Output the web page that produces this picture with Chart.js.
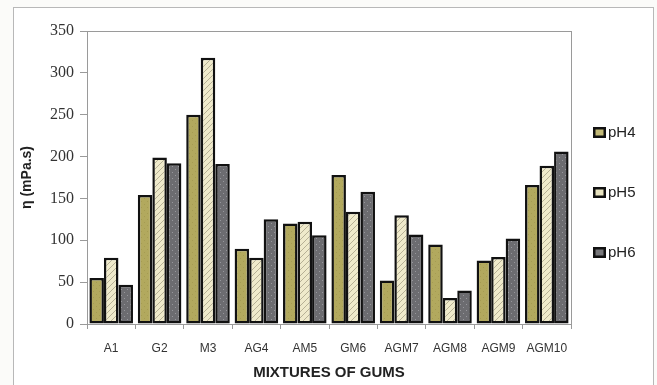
<!DOCTYPE html>
<html>
<head>
<meta charset="utf-8">
<script src="https://cdn.jsdelivr.net/npm/chart.js@4.4.1/dist/chart.umd.min.js"></script>
<style>
  html, body { margin: 0; padding: 0; background: #fbfbf9; }
  #wrap { width: 657px; height: 385px; position: relative; }
</style>
</head>
<body>
<div id="wrap"><canvas id="c" width="657" height="385"></canvas></div>
<script>
// Viscosity of gum mixtures at three pH levels
const categories = ['A1', 'G2', 'M3', 'AG4', 'AM5', 'GM6', 'AGM7', 'AGM8', 'AGM9', 'AGM10'];
const pH4 = [55, 154, 250, 90, 120, 178, 52, 95, 76, 166];
const pH5 = [79, 199, 318, 79, 122, 134, 130, 31, 80, 189];
const pH6 = [47, 192, 191, 125, 106, 158, 107, 40, 102, 206];
const seriesNames = ['pH4', 'pH5', 'pH6'];
const yTicks = [0, 50, 100, 150, 200, 250, 300, 350];

// Fill textures for the bars
function makePattern(base, draw) {
  const p = document.createElement('canvas');
  p.width = 6; p.height = 6;
  const g = p.getContext('2d');
  g.fillStyle = base;
  g.fillRect(0, 0, 6, 6);
  draw(g);
  return g.createPattern(p, 'repeat');
}
const cctx = document.getElementById('c').getContext('2d');
const fillPH4 = makePattern('#b2a95e', g => {
  g.fillStyle = 'rgba(140,130,60,0.35)';
  g.fillRect(0, 0, 1, 1); g.fillRect(3, 3, 1, 1);
});
const fillPH5 = makePattern('#efeacb', g => {
  g.strokeStyle = 'rgba(150,145,120,0.65)';
  g.lineWidth = 1;
  g.beginPath();
  g.moveTo(0, 6); g.lineTo(6, 0);
  g.moveTo(-3, 3); g.lineTo(3, -3);
  g.moveTo(3, 9); g.lineTo(9, 3);
  g.stroke();
});
const fillPH6 = makePattern('#6c6c70', g => {
  g.fillStyle = 'rgba(170,170,175,0.7)';
  g.fillRect(1, 1, 1, 1); g.fillRect(4, 4, 1, 1);
});
const fills = [fillPH4, fillPH5, fillPH6];
const swatches = ['#c2b977', '#e8e3c0', '#77777a'];

// Outer frame, plot frame and background
const framePlugin = {
  id: 'frames',
  beforeDraw(chart) {
    const { ctx, chartArea: a } = chart;
    ctx.save();
    ctx.fillStyle = '#fbfbf9';
    ctx.fillRect(0, 0, chart.width, chart.height);
    ctx.fillStyle = '#ffffff';
    ctx.fillRect(13, 7, 641, 400);
    ctx.strokeStyle = '#b8b8b8';
    ctx.lineWidth = 1;
    ctx.strokeRect(13.5, 7.5, 640, 400);
    ctx.strokeStyle = '#9a9a9a';
    ctx.strokeRect(Math.round(a.left) + 0.5, Math.round(a.top) + 0.5, Math.round(a.right - a.left), Math.round(a.bottom - a.top));
    ctx.restore();
  }
};

// Legend column on the right
const legendPlugin = {
  id: 'sideLegend',
  afterDraw(chart) {
    const { ctx } = chart;
    const ys = [132, 192, 252];
    ctx.save();
    chart.data.datasets.forEach((ds, i) => {
      const y = ys[i];
      ctx.fillStyle = '#111';
      ctx.fillRect(593, y - 5, 13, 11);
      ctx.fillStyle = swatches[i];
      ctx.fillRect(595.5, y - 2.5, 8, 6);
      ctx.fillStyle = '#222';
      ctx.font = '15px "Liberation Sans", Arial, sans-serif';
      ctx.textBaseline = 'middle';
      ctx.textAlign = 'left';
      ctx.fillText(ds.label, 608, y + 1);
    });
    ctx.restore();
  }
};

new Chart(cctx, {
  type: 'bar',
  data: {
    labels: categories,
    datasets: [pH4, pH5, pH6].map((vals, i) => ({
      label: seriesNames[i],
      data: vals,
      backgroundColor: fills[i],
      borderColor: '#111111',
      borderWidth: 2.5,
      borderSkipped: false,
      categoryPercentage: 0.9,
      barPercentage: 1.0
    }))
  },
  options: {
    responsive: false,
    animation: false,
    devicePixelRatio: 1,
    layout: { padding: { left: 13, right: 86, top: 31, bottom: 0 } },
    plugins: {
      legend: { display: false },
      tooltip: { enabled: false }
    },
    scales: {
      x: {
        grid: {
          display: true,
          offset: true,
          drawOnChartArea: false,
          drawTicks: true,
          tickLength: 5,
          color: '#9a9a9a'
        },
        border: { display: true, color: '#9a9a9a', width: 1 },
        ticks: {
          color: '#333',
          font: { family: '"Liberation Sans", Arial, sans-serif', size: 12 },
          padding: 12,
          maxRotation: 0,
          autoSkip: false
        },
        title: {
          display: true,
          text: 'MIXTURES OF GUMS',
          color: '#222',
          font: { family: '"Liberation Sans", Arial, sans-serif', size: 15, weight: 'bold' },
          padding: { top: 0, bottom: 3 }
        },
        afterFit(scale) { scale.height = 61; }
      },
      y: {
        min: 0,
        max: 350,
        afterBuildTicks(scale) { scale.ticks = yTicks.map(v => ({ value: v })); },
        grid: {
          display: true,
          drawOnChartArea: false,
          drawTicks: true,
          tickLength: 7,
          color: '#9a9a9a'
        },
        border: { display: true, color: '#9a9a9a', width: 1 },
        ticks: {
          color: '#333',
          font: { family: '"Liberation Serif", "Times New Roman", serif', size: 16 },
          padding: 6
        },
        title: {
          display: true,
          text: 'η (mPa.s)',
          color: '#222',
          font: { family: '"Liberation Sans", Arial, sans-serif', size: 14, weight: 'bold' },
          padding: { top: 6, bottom: 0 }
        },
        afterFit(scale) { scale.width = 74; }
      }
    }
  },
  plugins: [framePlugin, legendPlugin]
});
</script>
</body>
</html>
